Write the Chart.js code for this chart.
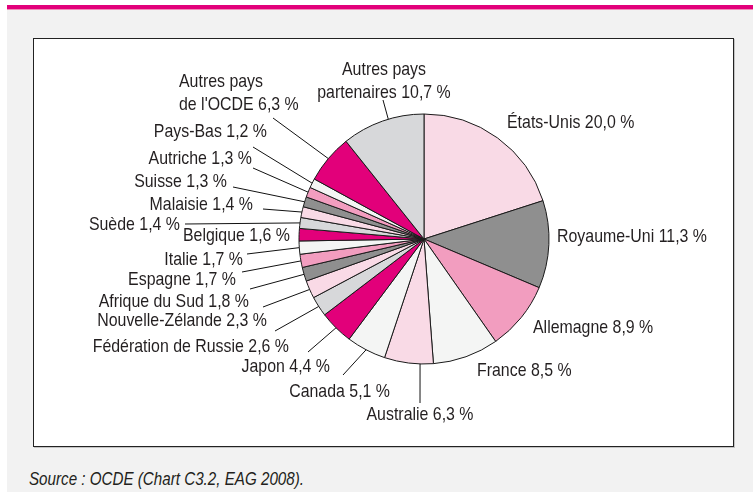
<!DOCTYPE html>
<html>
<head>
<meta charset="utf-8">
<script src="https://cdn.jsdelivr.net/npm/chart.js@4.4.0/dist/chart.umd.min.js"></script>
<style>
  html, body { margin: 0; padding: 0; background: #fff; }
  #page { position: relative; width: 753px; height: 492px; overflow: hidden; }
  .bg { position: absolute; left: 7px; top: 10px; right: 0; bottom: 0; background: #f2f2f2; }
  .bar { position: absolute; left: 7px; top: 5px; right: 0; height: 4px; background: #e2007a; border-bottom: 1px solid #f08cb8; }
  .box { position: absolute; left: 33px; top: 38px; width: 699px; height: 407px; background: #fff;
         border: 1px solid #222; box-shadow: 1px 1px 0 #c4c4c4; }
  .source { position: absolute; left: 29px; top: 469px; line-height: 18px; white-space: nowrap;
            font: italic 18px "Liberation Sans Narrow", "Liberation Sans", Arial, sans-serif;
            color: #231f20; transform-origin: 0 0; }
  #chart { position: absolute; left: 0; top: 0; }
</style>
</head>
<body>
<div id="page">
  <div class="bg"></div>
  <div class="bar"></div>
  <div class="box"></div>
  <div class="source" id="source">Source : OCDE (Chart C3.2, EAG 2008).</div>
  <canvas id="chart" width="753" height="492"></canvas>
</div>
<script>
// Pays (dans l'ordre du graphique, sens horaire depuis le haut)
const categories = [
  'États-Unis', 'Royaume-Uni', 'Allemagne', 'France', 'Australie', 'Canada', 'Japon',
  'Fédération de Russie', 'Nouvelle-Zélande', 'Afrique du Sud', 'Espagne', 'Italie',
  'Belgique', 'Suède', 'Malaisie', 'Suisse', 'Autriche', 'Pays-Bas',
  ['Autres pays', "de l'OCDE"], ['Autres pays', 'partenaires']
];

// Part des étudiants étrangers (%)
const shares = [20.0, 11.3, 8.9, 8.5, 6.3, 5.1, 4.4, 2.6, 2.3, 1.8, 1.7, 1.7, 1.6, 1.4, 1.4, 1.3, 1.3, 1.2, 6.3, 10.7];

// Couleurs des parts
const C = { lpink: '#f9dae6', gray: '#8f8f8f', pink: '#f29dbf', white: '#f4f5f4', mag: '#e2007a', lgray: '#d7d8da' };
const sliceColors = [
  C.lpink, C.gray, C.pink, C.white, C.lpink, C.white, C.mag, C.lgray, C.lpink, C.gray,
  C.pink, C.white, C.mag, C.lgray, C.lpink, C.gray, C.pink, C.white, C.mag, C.lgray
];

// Position des étiquettes : x, y (milieu de la 1re ligne), alignement, bout du trait, position du trait dans la part
const labelLayout = [
  { x: 507, y: 123, align: 'left' },
  { x: 557, y: 237, align: 'left' },
  { x: 533, y: 328, align: 'left' },
  { x: 477, y: 371, align: 'left' },
  { x: 420, y: 415, align: 'center', end: [420, 403], frac: 0.27 },
  { x: 390, y: 392, align: 'right', end: [343, 375] },
  { x: 330, y: 367, align: 'right', end: [308, 352] },
  { x: 289, y: 347, align: 'right', end: [275, 331] },
  { x: 267, y: 321, align: 'right', end: [263, 307] },
  { x: 249, y: 302, align: 'right', end: [250, 289] },
  { x: 236, y: 280, align: 'right', end: [242, 272] },
  { x: 243, y: 260, align: 'right', end: [247, 254] },
  { x: 290, y: 236, align: 'right' },
  { x: 180, y: 225, align: 'right', end: [185, 224] },
  { x: 253, y: 205, align: 'right', end: [263, 209] },
  { x: 227, y: 182, align: 'right', end: [233, 187] },
  { x: 252, y: 159, align: 'right', end: [253, 168] },
  { x: 267, y: 132, align: 'right', end: [253, 147] },
  { x: 179, y: 82, align: 'left', end: [273, 118] },
  { x: 384, y: 70, align: 'center', end: [383, 100], frac: 0.57 }
];

const FONT = '18.5px "Liberation Sans Narrow", "Liberation Sans", Arial, sans-serif';
const TEXT_COLOR = '#231f20';

function fmt(v) {
  return v.toFixed(1).replace('.', ',') + ' %';
}

// Ajuster la largeur du texte de la source
(function () {
  const c = document.createElement('canvas').getContext('2d');
  c.font = 'italic 18px "Liberation Sans Narrow", "Liberation Sans", Arial, sans-serif';
  const w = c.measureText('Source : OCDE (Chart C3.2, EAG 2008).').width;
  document.getElementById('source').style.transform = 'scaleX(' + (275 / w) + ')';
})();

// Étiquettes et traits de rappel
const labelPlugin = {
  id: 'pieLabels',
  afterDatasetsDraw(chart) {
    const ctx = chart.ctx;
    const meta = chart.getDatasetMeta(0);
    ctx.save();
    ctx.font = FONT;
    const sx = 150 / ctx.measureText('Royaume-Uni 11,3 %').width;

    meta.data.forEach((arc, i) => {
      const L = labelLayout[i];
      const p = arc.getProps(['x', 'y', 'startAngle', 'endAngle', 'outerRadius'], true);

      if (L.end) {
        const f = L.frac === undefined ? 0.5 : L.frac;
        const a = p.startAngle + f * (p.endAngle - p.startAngle);
        ctx.beginPath();
        ctx.moveTo(p.x + Math.cos(a) * p.outerRadius, p.y + Math.sin(a) * p.outerRadius);
        ctx.lineTo(L.end[0], L.end[1]);
        ctx.strokeStyle = '#111';
        ctx.lineWidth = 1;
        ctx.stroke();
      }

      const lines = Array.isArray(categories[i]) ? categories[i].slice() : [categories[i]];
      lines[lines.length - 1] += ' ' + fmt(shares[i]);
      ctx.fillStyle = TEXT_COLOR;
      ctx.textAlign = L.align;
      ctx.textBaseline = 'middle';
      lines.forEach((t, k) => {
        ctx.save();
        ctx.translate(L.x, L.y + k * 22.5);
        ctx.scale(sx, 1);
        ctx.fillText(t, 0, 0);
        ctx.restore();
      });
    });
    ctx.restore();
  }
};

new Chart(document.getElementById('chart'), {
  type: 'pie',
  data: {
    labels: categories,
    datasets: [{
      data: shares,
      backgroundColor: sliceColors,
      borderColor: '#1a1a1a',
      borderWidth: 1,
      radius: 125
    }]
  },
  options: {
    responsive: false,
    animation: false,
    events: [],
    layout: { padding: { left: 299, right: 204, top: 114, bottom: 128 } },
    plugins: {
      legend: { display: false },
      tooltip: { enabled: false }
    }
  },
  plugins: [labelPlugin]
});
</script>
</body>
</html>
